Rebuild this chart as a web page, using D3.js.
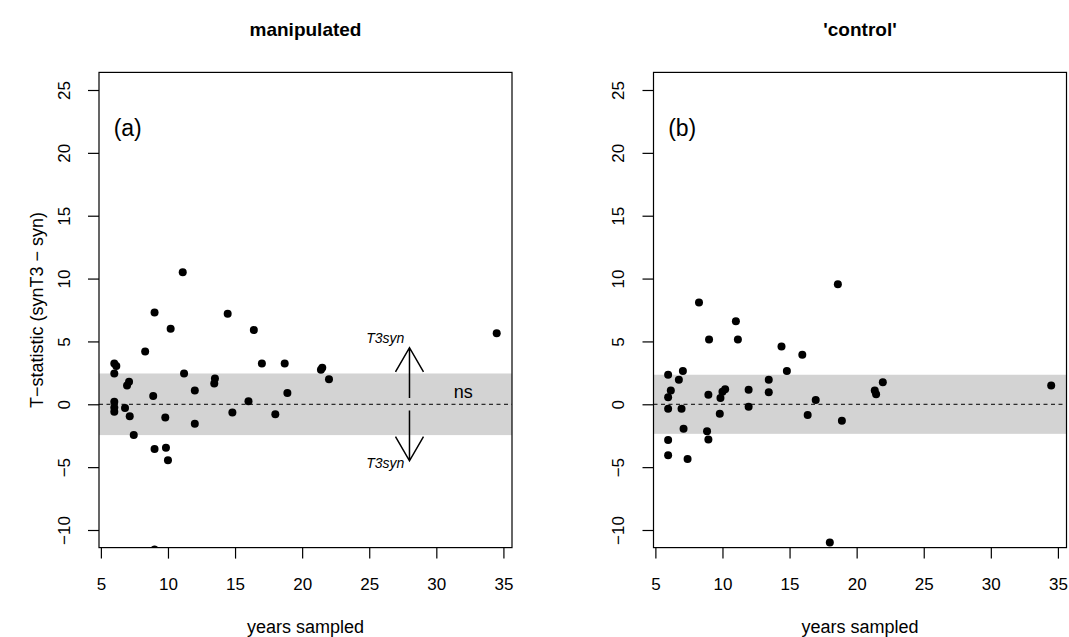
<!DOCTYPE html>
<html>
<head>
<meta charset="utf-8">
<script src="https://cdn.jsdelivr.net/npm/d3@7/dist/d3.min.js"></script>
<style>
  body { margin: 0; background: #fff; }
  svg { display: block; font-family: "Liberation Sans", Arial, sans-serif; }
  .tick text { font-size: 17px; fill: #000; }
  .tick line { stroke: #000; }
</style>
</head>
<body>
<div id="chart"></div>
<script>
// --- data ---
const xTicks = [5, 10, 15, 20, 25, 30, 35];
const yTicks = [-10, -5, 0, 5, 10, 15, 20, 25];

// panel (a): manipulated
const manipYears = [11.1, 9.0, 10.2, 14.45, 16.4, 8.3, 6.0, 6.15, 6.0, 17.0, 18.7, 11.2, 7.1, 6.95, 13.5, 13.45,
    12.0, 8.9, 18.9, 16.0, 6.0, 6.0, 6.0, 6.8, 7.15, 9.8, 14.8, 18.0, 12.0, 7.45, 9.0, 9.85, 10.0, 9.0,
    21.4, 21.5, 22.0, 34.5];
const manipT = [10.5, 7.3, 6.0, 7.2, 5.9, 4.2, 3.25, 3.05, 2.45, 3.25, 3.25, 2.45, 1.8, 1.5, 2.05, 1.65,
    1.1, 0.65, 0.9, 0.25, 0.2, -0.25, -0.6, -0.3, -0.95, -1.05, -0.65, -0.8, -1.55, -2.45, -3.55, -3.45, -4.45, -11.55,
    2.75, 2.9, 2.0, 5.65];

// panel (b): 'control'
const controlYears = [18.6, 8.25, 11.0, 9.0, 11.15, 14.4, 15.95, 14.8, 5.95, 7.05, 6.75, 13.45, 6.15, 5.95, 10.2,
    10.0, 9.85, 8.95, 11.95, 13.45, 16.95, 5.95, 6.95, 11.95, 9.8, 16.35, 18.9, 7.1, 8.85, 8.95, 5.95, 5.95, 7.4,
    18.0, 21.95, 21.35, 21.45, 34.5];
const controlT = [9.55, 8.1, 6.6, 5.15, 5.15, 4.6, 3.95, 2.65, 2.35, 2.65, 1.95, 1.95, 1.1, 0.55, 1.2,
    1.0, 0.5, 0.75, 1.15, 0.95, 0.35, -0.35, -0.35, -0.2, -0.75, -0.85, -1.3, -1.95, -2.15, -2.8, -2.85, -4.05, -4.35,
    -11.0, 1.75, 1.1, 0.8, 1.5];

const panelTitles = ["manipulated", "'control'"];
const panelLetters = ["(a)", "(b)"];
const critT = [2.45, 2.35];   // half-width of the grey 'ns' band

const Chart = (() => {
    const W = 1069, H = 637;
    const plotW = 413, top = 72.4, bottom = 547.6;
    const lefts = [99, 653.5];

    const svg = d3.select("#chart").append("svg").attr("width", W).attr("height", H);

    // R-style 4% padding around data range
    const x = d3.scaleLinear().domain([4.86, 35.64]).range([0, plotW]);
    const y = d3.scaleLinear().domain([-11.4, 26.4]).range([bottom - top, 0]);

    function panel(i, years, tvals) {
        const g = svg.append("g").attr("transform", `translate(${lefts[i]},${top})`);

        g.append("clipPath").attr("id", "clip" + i)
            .append("rect").attr("width", plotW).attr("height", bottom - top);

        // grey band
        g.append("rect")
            .attr("x", 0).attr("width", plotW)
            .attr("y", y(critT[i])).attr("height", y(-critT[i]) - y(critT[i]))
            .attr("fill", "#d3d3d3");

        // zero line
        g.append("line")
            .attr("x1", 0).attr("x2", plotW).attr("y1", y(0)).attr("y2", y(0))
            .attr("stroke", "#000").attr("stroke-width", 1).attr("stroke-dasharray", "4,3.5");

        // points
        g.append("g").attr("clip-path", `url(#clip${i})`)
            .selectAll("circle").data(d3.zip(years, tvals)).join("circle")
            .attr("cx", d => x(d[0])).attr("cy", d => y(d[1])).attr("r", 4).attr("fill", "#000");

        // box
        g.append("rect").attr("width", plotW).attr("height", bottom - top)
            .attr("fill", "none").attr("stroke", "#000").attr("stroke-width", 1.2);

        // x axis
        const xa = g.append("g").attr("transform", `translate(0,${bottom - top})`)
            .call(d3.axisBottom(x).tickValues(xTicks).tickSize(11).tickPadding(0).tickSizeOuter(0));
        xa.select(".domain").remove();
        xa.selectAll(".tick line").attr("stroke-width", 1.2);
        xa.selectAll(".tick text").attr("y", 36).attr("dy", "0.35em");

        // y axis, labels rotated like base R
        const ya = g.append("g")
            .call(d3.axisLeft(y).tickValues(yTicks).tickSize(11).tickSizeOuter(0));
        ya.select(".domain").remove();
        ya.selectAll(".tick line").attr("stroke-width", 1.2);
        ya.selectAll(".tick text")
            .attr("transform", "rotate(-90)")
            .attr("x", 0).attr("y", -35).attr("dy", "0.35em")
            .attr("text-anchor", "middle");

        // titles
        svg.append("text").attr("x", lefts[i] + plotW / 2).attr("y", 36)
            .attr("text-anchor", "middle").attr("font-size", 19).attr("font-weight", "bold")
            .text(panelTitles[i]);
        svg.append("text").attr("x", lefts[i] + plotW / 2).attr("y", 627).attr("dy", "0.35em")
            .attr("text-anchor", "middle").attr("font-size", 18)
            .text("years sampled");

        g.append("text").attr("x", x(7)).attr("y", y(22)).attr("dy", "0.35em")
            .attr("text-anchor", "middle").attr("font-size", 23)
            .text(panelLetters[i]);

        return g;
    }

    function arrow(g, x0, y0, y1) {
        const px = x(x0), py0 = y(y0), py1 = y(y1);
        const dir = py1 < py0 ? 1 : -1;
        const len = 28, ang = Math.PI / 6;
        const dx = len * Math.sin(ang), dy = len * Math.cos(ang) * dir;
        g.append("path")
            .attr("d", `M${px},${py0}L${px},${py1}M${px - dx},${py1 + dy}L${px},${py1}L${px + dx},${py1 + dy}`)
            .attr("fill", "none").attr("stroke", "#000").attr("stroke-width", 1.5);
    }

    function armLabel(g, xv, yv) {
        g.append("text").attr("x", x(xv)).attr("y", y(yv)).attr("dy", "0.35em")
            .attr("text-anchor", "middle").attr("font-size", 14).attr("font-style", "italic")
            .text("T3syn");
    }

    function init() {
        const ga = panel(0, manipYears, manipT);
        panel(1, controlYears, controlT);

        arrow(ga, 28, 0.5, 4.5);
        arrow(ga, 28, -0.5, -4.5);
        armLabel(ga, 26.2, 5.3);
        armLabel(ga, 26.2, -4.7);
        ga.append("text").attr("x", x(32)).attr("y", y(1.0)).attr("dy", "0.35em")
            .attr("text-anchor", "middle").attr("font-size", 18).text("ns");

        svg.append("text")
            .attr("transform", `translate(37,${(top + bottom) / 2}) rotate(-90)`)
            .attr("dy", "0.35em").attr("text-anchor", "middle").attr("font-size", 18)
            .text("T\u2212statistic (synT3 \u2212 syn)");
    }

    return { init };
})();

Chart.init();
</script>
</body>
</html>
